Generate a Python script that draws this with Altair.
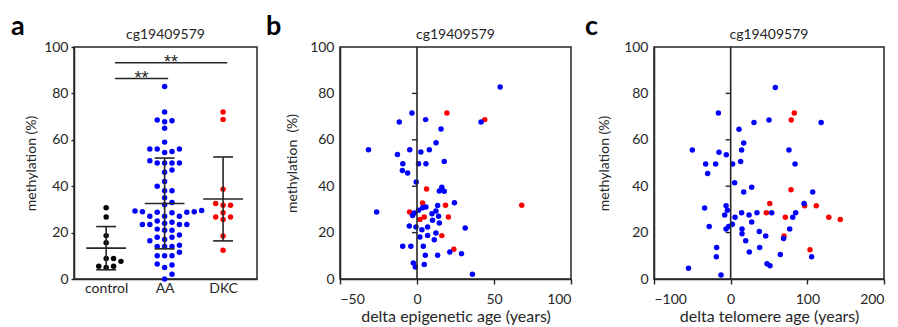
import altair as alt
import pandas as pd
import numpy as np

FONT = "Lato"
INK = "#262626"

# ---------------- data ----------------
GROUPS = ["control", "AA", "DKC"]
GROUP_COLORS = ["#000000", "#0000ff", "#ff0000"]
PROBE = "cg19409579"

CONTROL = [30.7, 26.7, 18.7, 15.6, 8.8, 8.8, 7.6, 5.5, 5.5, 5.0]
AA = [83, 72, 68.5, 68.2, 67.8, 65, 59, 56, 56, 55, 54.5, 56, 50, 50, 50, 50, 51,
      46, 47, 42, 40, 38, 38, 35, 33, 32, 29.5, 29, 28.8, 28.6, 28.8, 29, 29.3,
      27, 27, 27, 25, 24, 23.5, 23.5, 23.5, 23.5, 24.5, 21.5, 21, 21, 19, 18, 18,
      17, 16.5, 14, 14, 14, 14.5, 11.5, 10, 10, 10, 6.5, 6, 5, 2, 0]
DKC = [72.0, 68.8, 38.7, 32.5, 31.8, 31.8, 28.6, 26.7, 26.7, 25.6, 18.5, 12.4]

# significance brackets (group positions 1..3) and stars
BR_X1 = [1.15, 1.15]
BR_X2 = [2.06, 3.07]
BR_Y = [86.4, 93.2]
BR_TXT = ["**", "**"]

# panel b: delta epigenetic age vs methylation
EPI_AA_X = [54.0, -3.3, -11.5, 5.6, 41.6, 15.6, 12.4, -31.5, -12.7, -4.7, 2.5, 8.0,
            -9.2, 1.0, 5.8, 17.7, -9.5, -6.1, -0.5, 16.1, 14.5, 17.7, 24.3, 13.4,
            -26.2, -2.9, -1.8, 1.0, 3.6, 5.8, 9.7, 12.3, 14.0, 10.1, 14.5, -5.0,
            -0.7, 3.2, 6.9, 1.9, 6.9, 11.2, 12.3, 31.3, -9.3, -4.0, 4.1, 5.4, 13.4,
            21.3, 28.9, 36.0, -2.4, -1.1, 4.7]
EPI_AA_Y = [82.8, 71.6, 67.7, 68.7, 67.7, 64.7, 58.7, 55.7, 53.7, 55.7, 54.7, 55.7,
            49.7, 49.7, 49.7, 50.7, 46.8, 45.7, 41.8, 39.5, 37.9, 37.8, 32.9, 31.7,
            28.9, 27.4, 28.4, 29.6, 30.7, 31.0, 28.1, 29.3, 27.0, 25.3, 24.1, 22.8,
            22.4, 21.2, 22.4, 18.1, 18.8, 16.9, 19.8, 22.0, 14.1, 14.1, 14.1, 10.2,
            10.2, 11.6, 10.9, 2.0, 6.9, 5.2, 6.3]
EPI_DKC_X = [19.4, 44.0, 6.2, 3.6, 18.5, 68.0, -4.8, 4.7, 20.4, 1.9, 16.1, 23.9]
EPI_DKC_Y = [71.6, 68.7, 38.8, 32.8, 31.8, 31.8, 28.9, 26.7, 26.7, 25.7, 18.7, 12.8]

# panel c: delta telomere age vs methylation
TEL_AA_X = [58.3, -16.0, 30.4, 50.0, 118.0, 10.9, 17.0, -50.0, -15.2, 14.3, 76.0,
            -5.7, -32.6, -19.6, 2.6, 13.0, 84.0, -30.0, 5.2, 27.4, 17.0, 107.0,
            95.7, -34.0, -6.0, -4.3, -7.8, 5.7, 14.3, 24.0, 34.3, 53.5, 84.8, 81.0,
            -28.0, -6.0, -2.6, 2.2, 27.4, 14.8, 14.8, 37.4, 45.7, 77.0, 69.0, 19.6,
            -18.3, 37.8, 24.3, -18.7, 64.8, 105.6, 47.4, 51.3, -55.0, -12.6]
TEL_AA_Y = [82.5, 71.6, 67.5, 68.5, 67.5, 64.5, 58.6, 55.6, 54.6, 55.6, 55.6,
            53.6, 49.6, 49.6, 49.6, 50.6, 49.6, 45.5, 41.5, 39.5, 37.5, 37.5,
            32.5, 30.6, 31.6, 29.6, 27.6, 26.6, 28.6, 27.6, 28.6, 28.6, 28.6, 26.6,
            22.6, 21.6, 22.6, 23.6, 24.6, 21.6, 19.5, 20.5, 18.5, 21.6, 17.5, 16.5,
            13.6, 13.6, 11.6, 9.6, 10.6, 9.6, 6.6, 5.7, 4.6, 1.7]
TEL_DKC_X = [83.0, 79.0, 78.7, 51.0, 96.5, 111.7, 46.5, 71.3, 128.0, 143.0, 69.6, 103.5]
TEL_DKC_Y = [71.6, 68.5, 38.5, 32.5, 31.6, 31.6, 28.6, 26.6, 26.6, 25.6, 18.5, 12.6]

Y_TICKS = [0, 20, 40, 60, 80, 100]
ZERO_TICKS = [20, 40, 60, 80]

# ---------------- layout constants ----------------
H = 232
WA, WB, WC = 183, 231, 230
A_DOMAIN = [0.45, 3.58]
PT = 30


def swarm(vals, center, y_px=H / 100.0, x_px=WA / (A_DOMAIN[1] - A_DOMAIN[0]),
          step=7.4, diam=6.3):
    vals = np.asarray(vals, dtype=float)
    order = np.argsort(vals, kind="stable")
    placed = []
    offs = np.zeros(len(vals))
    cands = [0] + [s * j for j in range(1, 30) for s in (1, -1)]
    for i in order:
        y = vals[i] * y_px
        for c in cands:
            if all(not (pk == c and abs(py - y) < diam) for pk, py in placed):
                break
        placed.append((c, y))
        offs[i] = center + c * step / x_px
    return offs


rows = []
stats = []
caps = []
for gi, (g, vals) in enumerate(zip(GROUPS, [CONTROL, AA, DKC])):
    center = gi + 1
    xs = swarm(vals, center)
    for v, xv in zip(vals, xs):
        rows.append({"group": g, "value": v, "xpos": xv})
    m = float(np.mean(vals))
    sd = float(np.std(vals, ddof=1))
    stats.append({"idx": center, "mean": m, "lo": m - sd, "hi": m + sd,
                  "xl": center - 0.34, "xr": center + 0.34})
    for yv in (m - sd, m + sd):
        caps.append({"yv": yv, "cl": center - 0.17, "cr": center + 0.17})
df_a = pd.DataFrame(rows)
df_stats = pd.DataFrame(stats)
df_caps = pd.DataFrame(caps)
df_br = pd.DataFrame({"x1": BR_X1, "x2": BR_X2, "y": BR_Y, "txt": BR_TXT})
df_br["xm"] = (df_br["x1"] + df_br["x2"]) / 2

color_scale = alt.Scale(domain=GROUPS, range=GROUP_COLORS)

label_expr = " : ".join(
    [f"datum.value == {i + 1} ? '{g}'" for i, g in enumerate(GROUPS[:-1])]
) + f" : '{GROUPS[-1]}'"


def letter(ch, x, y):
    return alt.Chart(pd.DataFrame({"l": [ch]})).mark_text(
        font=FONT, fontSize=27, fontWeight="bold", align="left",
        baseline="alphabetic", color="#000000"
    ).encode(text="l:N", x=alt.value(x), y=alt.value(y))


def probe_title(w):
    return alt.Chart(pd.DataFrame({"t": [PROBE]})).mark_text(
        font=FONT, fontSize=14, align="center", baseline="alphabetic", color=INK
    ).encode(text="t:N", x=alt.value(w / 2), y=alt.value(-8))


line_kw = dict(color=INK, strokeWidth=1.6)

# ---------------- panel a ----------------
xs_a = alt.Scale(domain=A_DOMAIN, nice=False, zero=False)
ys_all = alt.Scale(domain=[0, 100], nice=False)
ax_a = alt.Axis(values=[1, 2, 3], labelExpr=label_expr, ticks=False,
                labelPadding=2, title=None)
ay_a = alt.Axis(values=Y_TICKS, tickSize=3, labelPadding=3,
                title="methylation (%)", titleX=-36, titleY=H / 2)


def XA(f):
    return alt.X(f, scale=xs_a, axis=ax_a)


def YA(f):
    return alt.Y(f, scale=ys_all, axis=ay_a)


pts_a = alt.Chart(df_a).mark_circle(size=PT, opacity=1).encode(
    x=XA("xpos:Q"), y=YA("value:Q"),
    color=alt.Color("group:N", scale=color_scale, legend=None))
mean_a = alt.Chart(df_stats).mark_rule(**line_kw).encode(
    x=XA("xl:Q"), x2="xr:Q", y=YA("mean:Q"))
sd_a = alt.Chart(df_stats).mark_rule(**line_kw).encode(
    x=XA("idx:Q"), y=YA("lo:Q"), y2="hi:Q")
cap_a = alt.Chart(df_caps).mark_rule(**line_kw).encode(
    x=XA("cl:Q"), x2="cr:Q", y=YA("yv:Q"))
br_a = alt.Chart(df_br).mark_rule(**line_kw).encode(
    x=XA("x1:Q"), x2="x2:Q", y=YA("y:Q"))
star_a = alt.Chart(df_br).mark_text(font="Liberation Sans", fontSize=18, color=INK,
                                    baseline="alphabetic", dy=5).encode(
    x=XA("xm:Q"), y=YA("y:Q"), text="txt:N")

panel_a = alt.layer(pts_a, mean_a, sd_a, cap_a, br_a, star_a,
                    probe_title(WA), letter("a", -63, -12)).properties(
    width=WA, height=H)


# ---------------- scatter panels ----------------
def scatter_panel(ax, ay, dx, dy, domain, ticks, xtitle, ytitle, titlex, let, letx, w):
    df = pd.concat([
        pd.DataFrame({"x": dx, "y": dy, "grp": "DKC"}),
        pd.DataFrame({"x": ax, "y": ay, "grp": "AA"}),
    ], ignore_index=True)
    xsc = alt.Scale(domain=domain, nice=False, zero=False)
    xax = alt.Axis(values=ticks, tickSize=5, labelPadding=8,
                   title=xtitle, titlePadding=2, titleFontSize=16)
    yax = alt.Axis(values=Y_TICKS, ticks=False, labelPadding=6,
                   title=ytitle, titleX=titlex, titleY=H / 2)

    def X(f):
        return alt.X(f, scale=xsc, axis=xax)

    def Y(f):
        return alt.Y(f, scale=ys_all, axis=yax)

    pts = alt.Chart(df).mark_circle(size=PT, opacity=1).encode(
        x=X("x:Q"), y=Y("y:Q"),
        color=alt.Color("grp:N", scale=color_scale, legend=None))
    zero = alt.Chart(pd.DataFrame({"z": [0], "y0": [0], "y1": [100]})).mark_rule(
        **line_kw).encode(x=X("z:Q"), y=Y("y0:Q"), y2="y1:Q")
    zt = alt.Chart(pd.DataFrame({"t": ZERO_TICKS, "z": [0] * len(ZERO_TICKS)})).mark_rule(
        xOffset=-5, color=INK, strokeWidth=1.4).encode(
        x=X("z:Q"), x2="z:Q", y=Y("t:Q"))
    return alt.layer(pts, zero, zt, probe_title(w), letter(let, letx, -12)).properties(
        width=w, height=H)


panel_b = scatter_panel(EPI_AA_X, EPI_AA_Y, EPI_DKC_X, EPI_DKC_Y, [-50, 100],
                        [-50, 0, 50, 100], "delta epigenetic age (years)",
                        "methylation \u00a0(%)", -41, "b", -74, WB)
panel_c = scatter_panel(TEL_AA_X, TEL_AA_Y, TEL_DKC_X, TEL_DKC_Y, [-100, 200],
                        [-100, 0, 100, 200], "delta telomere age (years)",
                        "methylation (%)", -43, "c", -69, WC)

chart = alt.hconcat(panel_a, panel_b, panel_c, spacing=83, bounds="flush").configure_view(
    stroke=INK, strokeWidth=1.5
).configure_axis(
    domainColor=INK, domainWidth=1.5, tickColor=INK, tickWidth=1.4, grid=False,
    labelFont=FONT, labelFontSize=14, labelColor=INK,
    titleFont=FONT, titleFontSize=14, titleFontWeight="normal", titleColor=INK
).properties(
    padding={"left": 10, "top": 12, "right": 5, "bottom": 2},
    background="white"
)

chart.save("out.html", embed_options={"renderer": "svg", "actions": False})
